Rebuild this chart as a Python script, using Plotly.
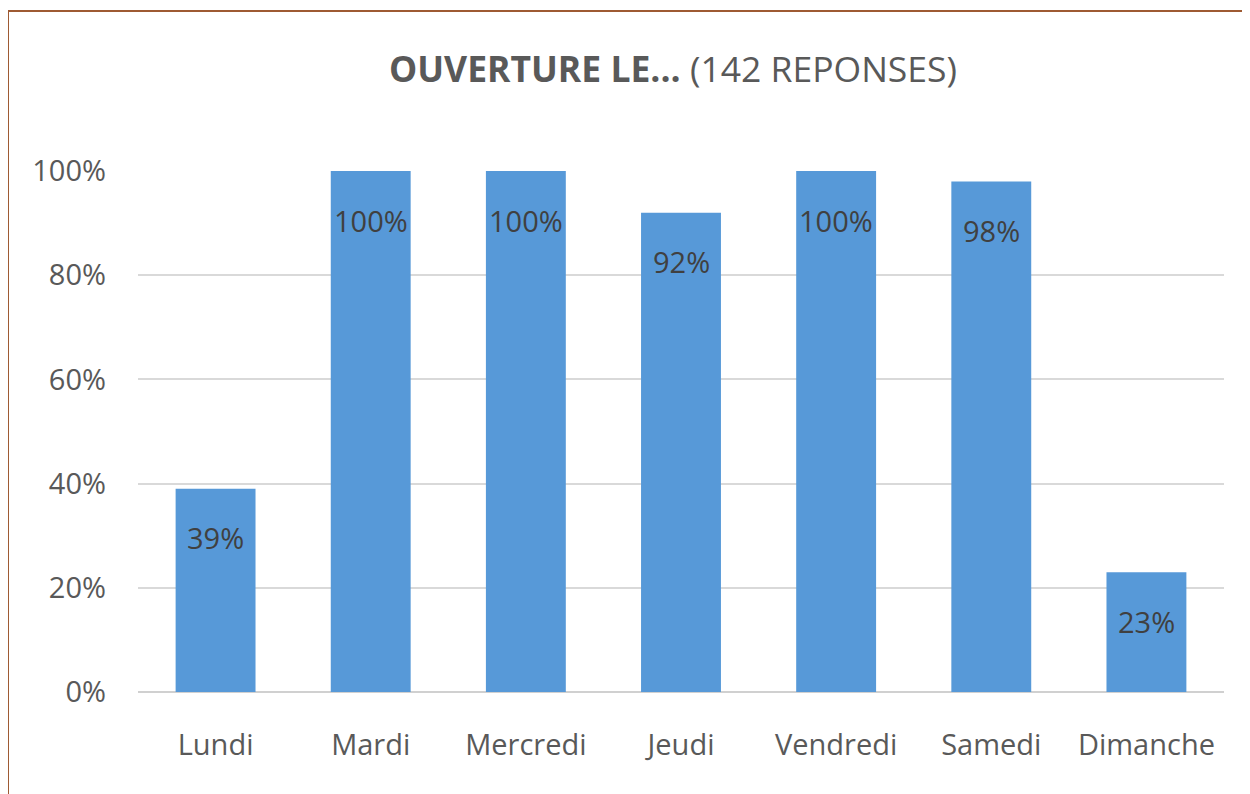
import plotly.graph_objects as go

days = ["Lundi", "Mardi", "Mercredi", "Jeudi", "Vendredi", "Samedi", "Dimanche"]
shares = [0.39, 1.00, 1.00, 0.92, 1.00, 0.98, 0.23]
tick_vals = [0, 0.2, 0.4, 0.6, 0.8, 1.0]
tick_text = ["0%", "20%", "40%", "60%", "80%", "100%"]
title_bold = "OUVERTURE LE..."
title_rest = "(142 REPONSES)"

FONT = "Open Sans, Lato, sans-serif"
OFF = 8  # page body margin
W, H = 1250 - OFF, 794 - OFF
L, T = 138 - OFF, 171 - OFF
R = W - (1224 - OFF)
B = H - (692 - OFF)
pw, ph = W - L - R, H - T - B

fig = go.Figure()
fig.add_trace(go.Bar(
    x=days, y=shares,
    marker=dict(color="#5799d8", line=dict(width=0)),
    hoverinfo="skip",
))

for d, v in zip(days, shares):
    fig.add_annotation(
        x=d, y=v, xref="x", yref="y",
        text=f"{round(v*100)}%", showarrow=False,
        yanchor="middle", yshift=-49,
        font=dict(family=FONT, size=29, color="#404040"),
    )

# outer brown frame
fig.add_shape(
    type="rect", xref="paper", yref="paper",
    x0=(8 - 138) / pw, x1=(1260 - 138) / pw,
    y0=-(810 - 692) / ph, y1=(692 - 11) / ph,
    line=dict(color="#9e5a33", width=2), fillcolor="rgba(0,0,0,0)",
    layer="below",
)

fig.update_layout(
    width=W, height=H,
    margin=dict(l=L, r=R, t=T, b=B, pad=0),
    paper_bgcolor="white", plot_bgcolor="white",
    showlegend=False,
    bargap=0.485,
    title=dict(
        text=f"<b>{title_bold}</b> {title_rest}",
        font=dict(family=FONT, size=35.5, color="#595959"),
        x=(673 - 138) / pw, xref="paper", xanchor="center",
        y=1 - (70 - OFF) / H, yref="container", yanchor="middle",
    ),
    xaxis=dict(
        showgrid=False, showline=False, ticks="",
        tickfont=dict(family=FONT, size=29, color="#595959"),
        ticklabelstandoff=33,
    ),
    yaxis=dict(
        range=[0, 1], tickvals=tick_vals, ticktext=tick_text,
        showgrid=True, gridcolor="#d9d9d9", gridwidth=1.5,
        zeroline=True, zerolinecolor="#d0d0d0", zerolinewidth=2,
        showline=False, ticks="",
        tickfont=dict(family=FONT, size=29, color="#595959"),
        ticklabelstandoff=31,
    ),
)

fig.write_html("out.html")
